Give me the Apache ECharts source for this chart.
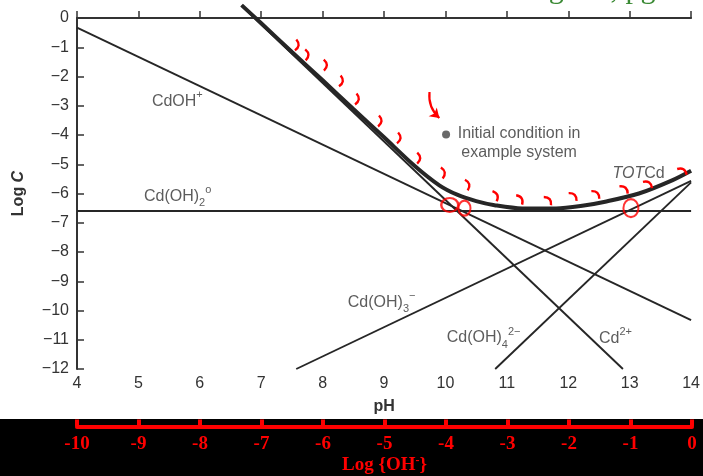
<!DOCTYPE html>
<html><head><meta charset="utf-8">
<script src="https://cdn.jsdelivr.net/npm/echarts@6/dist/echarts.min.js"></script>
<style>html,body{margin:0;padding:0;background:#fff}#c{width:703px;height:476px}</style>
</head><body><div id="c"></div>
<script>
// ---- data (pH, log C) ----
const cd2PH = [6.68, 12.89],  cd2Log = [0.42, -12];
const cdohPH = [4, 14],       cdohLog = [-0.33, -10.33];
const cdoh2PH = [4, 14],      cdoh2Log = [-6.6, -6.6];
const cdoh3PH = [7.57, 14],   cdoh3Log = [-12, -5.57];
const cdoh4PH = [10.81, 14],  cdoh4Log = [-12, -5.62];
const totPH  = [6.68, 7.0, 7.5, 8.0, 8.5, 9.0, 9.5, 9.9, 10.2, 10.5, 10.8, 11.25, 11.8, 12.2, 12.6, 13.15, 13.7, 14.0];
const totLog = [0.44, -0.18, -1.16, -2.13, -3.11, -4.08, -5.06, -5.72, -6.05, -6.26, -6.4, -6.51, -6.51, -6.43, -6.28, -6.0, -5.54, -5.22];
const initPH = [10.01], initLog = [-3.98];
const initText = ['Initial condition in\nexample system'];
const labelTexts = ['CdOH{sup|+}', 'Cd(OH){sub|2}{sup|o}', 'Cd(OH){sub|3}{sup|\u2212}', 'Cd(OH){sub|4}{sup|2\u2212}', 'Cd{sup|2+}', '{it|TOT}Cd'];
const labelPH  = [5.22, 5.09, 8.41, 10.02, 12.50, 12.72];
const labelLog = [-2.87, -6.09, -9.74, -10.94, -10.96, -5.33];
// hand-drawn red annotations
const markPH  = [7.56, 7.72, 8.02, 8.28, 8.54, 8.91, 9.22, 9.54, 9.94, 10.34, 10.80, 11.20, 11.66, 12.07, 12.44, 12.90, 13.29, 13.85];
const markLog = [-0.92, -1.26, -1.61, -2.15, -2.77, -3.52, -4.10, -4.79, -5.30, -5.71, -6.09, -6.22, -6.26, -6.12, -6.05, -5.88, -5.71, -5.26];
const circPH  = [10.07, 10.31, 13.02];
const circLog = [-6.39, -6.50, -6.50];
const arrowPH = [9.74, 9.90], arrowLog = [-2.53, -3.42];
// lower axis: Log {OH-}
const ohMin = -10, ohMax = 0;

const pairs = (a, b) => a.map((v, i) => [v, b[i]]);
const FONT = '"Liberation Sans", Arial, sans-serif';
const SERIF = '"Liberation Serif", "Times New Roman", serif';
const ink = '#262626';
const RED = '#ff0000';
const minus = v => String(v).replace('-', '\u2212');

const chart = echarts.init(document.getElementById('c'), null, {renderer: 'canvas'});

function speciesLine(xs, ys, w, z, smooth) {
  return {type: 'line', data: pairs(xs, ys), symbol: 'none', clip: false, smooth: smooth || false,
    lineStyle: {color: ink, width: w}, xAxisIndex: 0, yAxisIndex: 0, z: z, animation: false, silent: true};
}
const rich = {
  b:   {fontSize: 16, fontFamily: FONT, color: '#333', lineHeight: 24, verticalAlign: 'middle'},
  sup: {fontSize: 11, fontFamily: FONT, color: '#333', lineHeight: 24, verticalAlign: 'top'},
  sub: {fontSize: 11, fontFamily: FONT, color: '#333', lineHeight: 24, verticalAlign: 'bottom'},
  it:  {fontSize: 16, fontFamily: FONT, color: '#333', lineHeight: 24, fontStyle: 'italic', verticalAlign: 'middle'}
};
const markData = pairs(markPH, markLog);
const circSizes = [[17, 14], [12, 15], [15, 18]];

chart.setOption({
  animation: false,
  backgroundColor: '#fff',
  graphic: [
    {type: 'rect', left: 0, top: 419, shape: {width: 703, height: 57}, style: {fill: '#000'}, z: 0},
    {type: 'text', x: 678, y: 5, z: 1, style: {text: 'Diagram, pg 4', fill: '#3b8a35', font: '30px ' + SERIF, align: 'right', verticalAlign: 'bottom'}}
  ],
  grid: [
    {left: 77, right: 11, top: 18, bottom: 107},
    {left: 77, right: 11, top: 400, height: 27.5}
  ],
  xAxis: [
    {gridIndex: 0, type: 'value', min: 4, max: 14, interval: 1,
      name: 'pH', nameLocation: 'middle', nameGap: 30,
      nameTextStyle: {fontFamily: FONT, fontWeight: 'bold', fontSize: 16, color: '#333'},
      axisLine: {lineStyle: {color: '#333', width: 2}}, axisTick: {inside: true, length: 7, lineStyle: {color: '#333', width: 1.5}},
      axisLabel: {fontFamily: FONT, fontSize: 16, color: '#333', margin: 7}, splitLine: {show: false}},
    {gridIndex: 1, type: 'value', min: ohMin, max: ohMax, interval: 1, position: 'bottom', z: 10,
      name: 'Log {OH{s|-}}', nameLocation: 'middle', nameGap: 25,
      nameTextStyle: {fontFamily: SERIF, fontWeight: 'bold', fontSize: 19, color: RED,
        rich: {s: {fontFamily: SERIF, fontWeight: 'bold', fontSize: 12, color: RED, verticalAlign: 'top', lineHeight: 22}}},
      axisLine: {lineStyle: {color: RED, width: 4}}, axisTick: {inside: true, length: 7, lineStyle: {color: RED, width: 4}},
      axisLabel: {fontFamily: SERIF, fontWeight: 'bold', fontSize: 19, color: RED, margin: 8}, splitLine: {show: false}}
  ],
  yAxis: [
    {gridIndex: 0, type: 'value', min: -12, max: 0, interval: 1,
      name: 'Log {it|C}', nameLocation: 'middle', nameGap: 50,
      nameTextStyle: {fontFamily: FONT, fontWeight: 'bold', fontSize: 16, color: '#333',
        rich: {it: {fontFamily: FONT, fontWeight: 'bold', fontStyle: 'italic', fontSize: 16, color: '#333'}}},
      axisLine: {show: true, lineStyle: {color: '#333', width: 2}}, axisTick: {show: true, inside: true, length: 7, lineStyle: {color: '#333', width: 1.5}},
      axisLabel: {fontFamily: FONT, fontSize: 16, color: '#333', margin: 8, formatter: v => minus(v)}, splitLine: {show: false}},
    {gridIndex: 1, type: 'value', show: false, min: 0, max: 1}
  ],
  series: [
    speciesLine(cdohPH, cdohLog, 1.9, 3),
    speciesLine(cdoh2PH, cdoh2Log, 1.9, 3),
    speciesLine(cdoh3PH, cdoh3Log, 1.9, 3),
    speciesLine(cdoh4PH, cdoh4Log, 1.9, 3),
    speciesLine(cd2PH, cd2Log, 1.9, 3),
    speciesLine(totPH, totLog, 4, 4, 0.3),
    {type: 'scatter', data: pairs(initPH, initLog), symbol: 'circle', symbolSize: 8, z: 5,
      itemStyle: {color: '#444'},
      label: {show: true, position: 'inside', offset: [73, 9], formatter: () => initText[0],
        fontFamily: FONT, fontSize: 16, color: '#333', lineHeight: 19, align: 'center', verticalAlign: 'middle'}},
    {type: 'scatter', data: pairs(labelPH, labelLog), symbol: 'circle', symbolSize: 1, z: 5,
      itemStyle: {color: 'rgba(0,0,0,0)'},
      label: {show: true, position: 'inside', align: 'left', verticalAlign: 'middle',
        formatter: p => labelTexts[p.dataIndex].replace(/^([^{]+)/, '{b|$1}').replace(/\}([^{}|]+)$/, '}{b|$1}').replace(/\}([^{}|]+)\{/g, '}{b|$1}{'),
        rich: rich}},
    {type: 'custom', coordinateSystem: 'cartesian2d', z: 7, clip: false, data: markData,
      renderItem: function (params, api) {
        const i = params.dataIndex, n = markData.length;
        const p = api.coord([api.value(0), api.value(1)]);
        const a = api.coord(markData[Math.max(0, i - 1)]);
        const b = api.coord(markData[Math.min(n - 1, i + 1)]);
        let tx = b[0] - a[0], ty = b[1] - a[1];
        const L = Math.hypot(tx, ty) || 1; tx /= L; ty /= L;
        let nx = ty, ny = -tx; if (ny > 0) { nx = -nx; ny = -ny; }
        const ang = -38 * Math.PI / 180;
        const dx = nx * Math.cos(ang) - ny * Math.sin(ang);
        const dy = nx * Math.sin(ang) + ny * Math.cos(ang);
        const h = 5.5, bl = 3;
        return {type: 'bezierCurve', shape: {
            x1: p[0] - dx * h, y1: p[1] - dy * h, x2: p[0] + dx * h, y2: p[1] + dy * h,
            cpx1: p[0] - dy * bl * 2, cpy1: p[1] + dx * bl * 2},
          style: {stroke: RED, lineWidth: 2.4, fill: null}};
      }},
    {type: 'scatter', data: pairs(circPH, circLog), symbol: 'circle', z: 7,
      symbolSize: (v, p) => circSizes[p.dataIndex],
      itemStyle: {color: 'rgba(0,0,0,0)', borderColor: RED, borderWidth: 2.2}},
    {type: 'lines', coordinateSystem: 'cartesian2d', z: 7, symbol: ['none', 'arrow'], symbolSize: 9,
      lineStyle: {color: RED, width: 2.2, curveness: -0.25, opacity: 1},
      data: [{coords: pairs(arrowPH, arrowLog)}]}
  ]
});
</script>
</body></html>
